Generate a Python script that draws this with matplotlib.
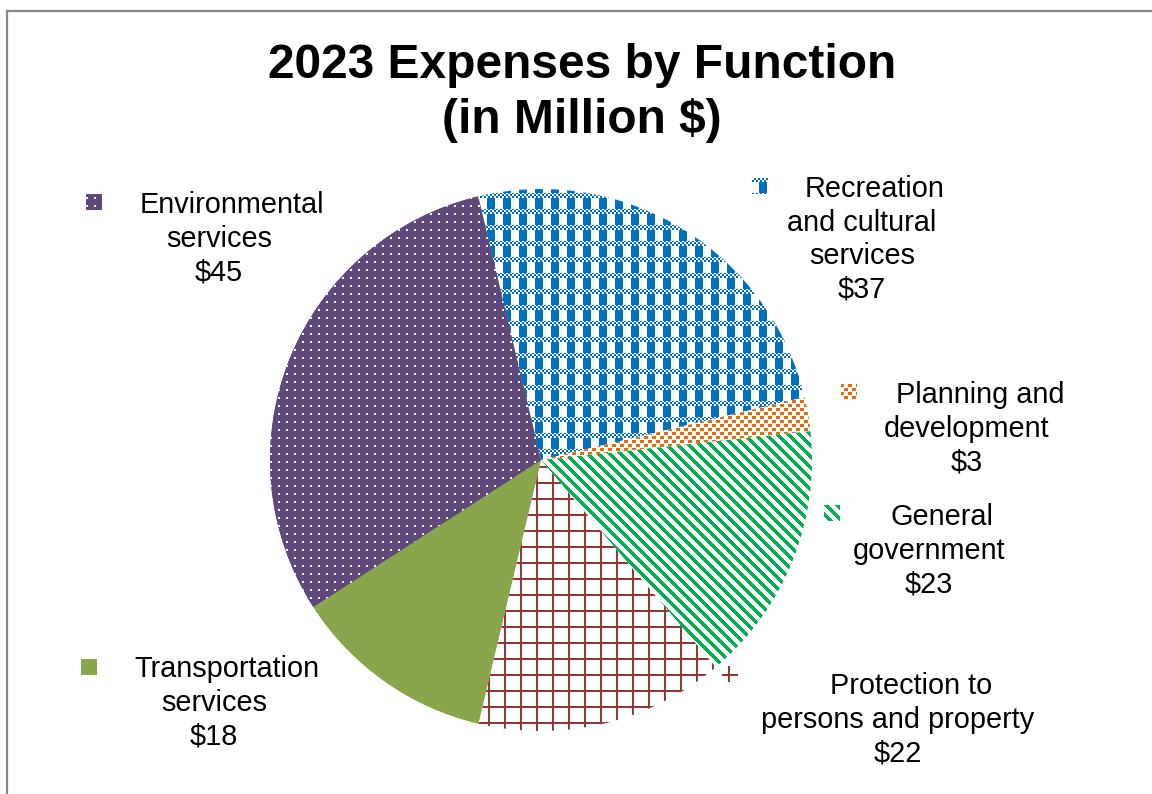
import numpy as np
import matplotlib
matplotlib.use("Agg")
import matplotlib.pyplot as plt
from matplotlib.colors import to_rgba
from matplotlib.patches import Rectangle
from matplotlib.lines import Line2D
from matplotlib.transforms import IdentityTransform

# ---- data ----
categories = [
    "Recreation\nand cultural\nservices",
    "Planning and\ndevelopment",
    "General\ngovernment",
    "Protection to\npersons and property",
    "Transportation\nservices",
    "Environmental\nservices",
]
expenses = [37, 3, 23, 22, 18, 45]
title_lines = ["2023 Expenses by Function", "(in Million $)"]

# ---- canvas ----
W, H, DPI = 1152, 794, 100
FONT = ["Liberation Sans", "DejaVu Sans"]
fig = plt.figure(figsize=(W / DPI, H / DPI), dpi=DPI)
fig.patch.set_facecolor("white")

# pie centre and radius in pixels
PCX, PCY, PR = 541, 460, 271
ax = fig.add_axes([(PCX - PR) / W, (H - PCY - PR) / H, 2 * PR / W, 2 * PR / H])

# ---- fill textures (pixel patterns, origin at top-left) ----
yy, xx = np.mgrid[0:H, 0:W]


def two_tone(mask, fg, bg):
    fg = np.array(to_rgba(fg)) * 255
    bg = np.array(to_rgba(bg)) * 255
    return np.where(mask[..., None], fg, bg).astype(np.uint8)


BLUE = "#0070C0"
ORANGE = "#E46C0A"
GREEN = "#00B050"
DARKRED = "#953735"
OLIVE = "#8AA64C"
PURPLE = "#5F497A"

# plaid: checker band over vertical bars
band = ((yy - 1) % 16) < 5
checker = ((xx // 2 + yy // 2) % 2) == 0
bars = ((xx - 7) % 16) < 8
plaid = two_tone(np.where(band, checker, bars), BLUE, "white")

# confetti squares
conf = (((xx % 8) < 4) & ((yy % 8) < 3)) | ((((xx - 4) % 8) < 4) & (((yy - 4) % 8) < 3))
confetti = two_tone(conf, ORANGE, "white")

# wide downward diagonal stripes
stripes = two_tone(((xx - yy) % 11) < 5, GREEN, "white")

# large grid
grid = two_tone((((xx - 8) % 16) < 2) | (((yy - 2) % 16) < 2), DARKRED, "white")

# solid
solid = two_tone(np.zeros((H, W), bool), OLIVE, OLIVE)

# white dots on purple
dots = two_tone((((xx - 6) % 8) < 2) & (((yy - 5) % 8) < 2), "white", PURPLE)

textures = [plaid, confetti, stripes, grid, solid, dots]
base_colors = ["white", "white", "white", "white", OLIVE, PURPLE]

# ---- pie ----
wedges, _ = ax.pie(
    expenses,
    startangle=103.4,
    counterclock=False,
    radius=1,
    colors=base_colors,
    wedgeprops=dict(linewidth=0, edgecolor="none"),
)
ax.set_xlim(-1, 1)
ax.set_ylim(-1, 1)
ax.set_aspect("equal")
ax.axis("off")

for w, tex in zip(wedges, textures):
    im = fig.figimage(tex, xo=0, yo=0, origin="upper", zorder=1)
    im.set_clip_path(w)

# ---- data labels with legend keys (pixel layout) ----
label_pos = [(862, 197), (967, 403), (929, 525), (898, 694), (214, 677), (219, 213)]
key_pos = [(759, 185), (848, 390), (831, 512), (729, 673), (88, 666), (93, 201)]
LINE_H = 33.6
FIRST_SHIFT = 13
KEY = 15

for name, val, (lx, ly), (kx, ky), tex in zip(categories, expenses, label_pos, key_pos, textures):
    lines = name.split("\n") + [f"${val}"]
    for i, s in enumerate(lines):
        x = lx + (FIRST_SHIFT if i == 0 else 0)
        y = ly + i * LINE_H
        fig.text(x / W, 1 - y / H, s, ha="center", va="baseline",
                 fontsize=20.8, family=FONT, color="black", zorder=3)
    rect = Rectangle((kx - KEY / 2, H - ky - KEY / 2), KEY, KEY, transform=IdentityTransform())
    kim = fig.figimage(tex, xo=0, yo=0, origin="upper", zorder=1)
    kim.set_clip_path(rect)

# ---- title ----
for s, yb in zip(title_lines, [78, 133]):
    fig.text(582 / W, 1 - yb / H, s, ha="center", va="baseline",
             fontsize=34.5, fontweight="bold", family=FONT, color="black", zorder=3)

# ---- chart frame (left and top edges) ----
frame = "#878787"
fig.add_artist(Line2D([7 / W, 7 / W], [0, 1 - 11 / H], color=frame, lw=1.6,
                      transform=fig.transFigure))
fig.add_artist(Line2D([7 / W, 1], [1 - 11 / H, 1 - 11 / H], color=frame, lw=1.6,
                      transform=fig.transFigure))

fig.savefig("out.png", dpi=DPI, facecolor="white")
